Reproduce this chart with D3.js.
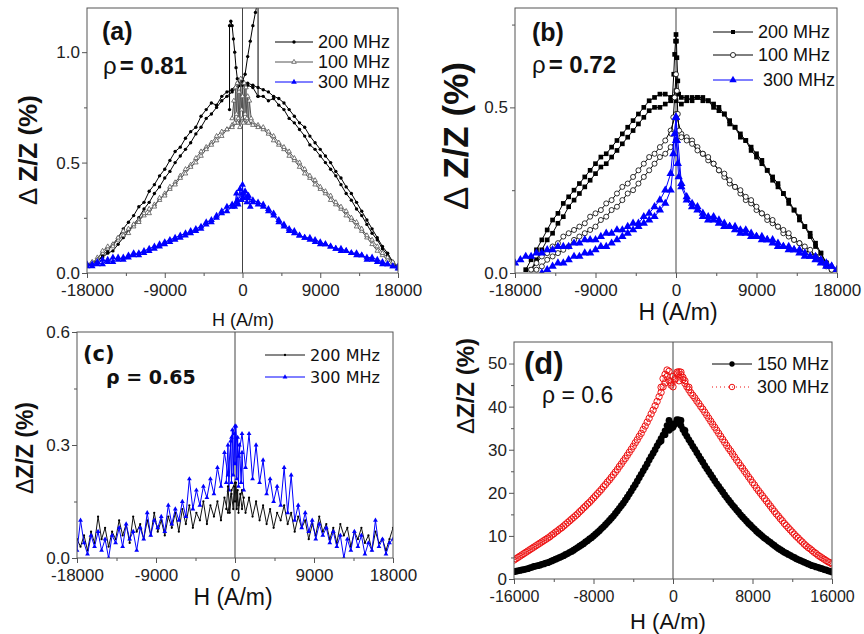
<!DOCTYPE html>
<html>
<head>
<meta charset="UTF-8">
<style>
  body { margin: 0; background: #fff; }
  svg { display: block; font-family: Arial, "Liberation Sans", sans-serif; }
</style>
</head>
<body>
<svg width="864" height="634"></svg>
<script src="https://d3js.org/d3.v7.min.js"></script>
<script>
// field sweep grids (A/m)
const hAB = [-18000,-17400,-16800,-16200,-15600,-15000,-14400,-13800,-13200,-12600,-12000,-11400,-10800,-10200,-9600,-9000,-8400,-7800,-7200,-6600,-6000,-5400,-4800,-4200,-3600,-3000,-2400,-1800,-1200,-600,0,600,1200,1800,2400,3000,3600,4200,4800,5400,6000,6600,7200,7800,8400,9000,9600,10200,10800,11400,12000,12600,13200,13800,14400,15000,15600,16200,16800,17400,18000];
const hC = [-18000,-17600,-17200,-16800,-16400,-16000,-15600,-15200,-14800,-14400,-14000,-13600,-13200,-12800,-12400,-12000,-11600,-11200,-10800,-10400,-10000,-9600,-9200,-8800,-8400,-8000,-7600,-7200,-6800,-6400,-6000,-5600,-5200,-4800,-4400,-4000,-3600,-3200,-2800,-2400,-2000,-1600,-1200,-800,-400,0,400,800,1200,1600,2000,2400,2800,3200,3600,4000,4400,4800,5200,5600,6000,6400,6800,7200,7600,8000,8400,8800,9200,9600,10000,10400,10800,11200,11600,12000,12400,12800,13200,13600,14000,14400,14800,15200,15600,16000,16400,16800,17200,17600,18000];
const hD = [-16000,-15600,-15200,-14800,-14400,-14000,-13600,-13200,-12800,-12400,-12000,-11600,-11200,-10800,-10400,-10000,-9600,-9200,-8800,-8400,-8000,-7600,-7200,-6800,-6400,-6000,-5600,-5200,-4800,-4400,-4000,-3600,-3200,-2800,-2400,-2000,-1600,-1200,-800,-400,0,400,800,1200,1600,2000,2400,2800,3200,3600,4000,4400,4800,5200,5600,6000,6400,6800,7200,7600,8000,8400,8800,9200,9600,10000,10400,10800,11200,11600,12000,12400,12800,13200,13600,14000,14400,14800,15200,15600,16000];
const hD2 = [-15800,-15400,-15000,-14600,-14200,-13800,-13400,-13000,-12600,-12200,-11800,-11400,-11000,-10600,-10200,-9800,-9400,-9000,-8600,-8200,-7800,-7400,-7000,-6600,-6200,-5800,-5400,-5000,-4600,-4200,-3800,-3400,-3000,-2600,-2200,-1800,-1400,-1000,-600,-200,200,600,1000,1400,1800,2200,2600,3000,3400,3800,4200,4600,5000,5400,5800,6200,6600,7000,7400,7800,8200,8600,9000,9400,9800,10200,10600,11000,11400,11800,12200,12600,13000,13400,13800,14200,14600,15000,15400,15800];

// (a) rho = 0.81
const a200u = [0.03,0.05,0.05,0.08,0.10,0.13,0.16,0.20,0.23,0.26,0.30,0.32,0.37,0.40,0.44,0.47,0.51,0.55,0.57,0.61,0.64,0.66,0.71,0.74,0.77,0.76,0.80,0.82,0.83,0.86,0.87,0.85,0.84,0.80,0.80,0.78,0.79,0.76,0.74,0.70,0.68,0.65,0.62,0.58,0.56,0.53,0.50,0.47,0.44,0.40,0.36,0.33,0.29,0.26,0.22,0.18,0.15,0.11,0.08,0.05,0.02];
const a200d = [0.04,0.04,0.06,0.07,0.09,0.10,0.13,0.16,0.19,0.22,0.25,0.29,0.32,0.36,0.39,0.43,0.46,0.50,0.53,0.56,0.59,0.63,0.66,0.70,0.72,0.75,0.78,0.80,0.82,0.84,0.85,0.86,0.85,0.84,0.83,0.82,0.80,0.79,0.77,0.74,0.71,0.68,0.66,0.62,0.59,0.56,0.53,0.50,0.46,0.43,0.39,0.36,0.32,0.28,0.24,0.20,0.16,0.12,0.09,0.05,0.03];
const a200Spike = [[-1500,0.74],[-1500,1.12],[-1350,1.14],[-1200,1.12],[-1050,1.06],[-900,1.00],[-750,0.93],[-600,0.88],[-300,0.85],[0,0.87],[300,0.90],[600,0.98],[900,1.05],[1200,1.12],[1500,1.18],[1700,1.22],[1800,1.22],[1800,0.80]];
const a100u = [0.03,0.04,0.07,0.09,0.11,0.13,0.15,0.17,0.20,0.21,0.24,0.26,0.27,0.31,0.33,0.36,0.38,0.41,0.44,0.47,0.49,0.52,0.55,0.57,0.59,0.62,0.64,0.65,0.67,0.68,0.69,0.68,0.68,0.67,0.65,0.63,0.60,0.58,0.56,0.53,0.51,0.48,0.45,0.43,0.40,0.38,0.36,0.33,0.31,0.29,0.26,0.24,0.21,0.19,0.16,0.13,0.10,0.08,0.06,0.04,0.02];
const a100d = [0.04,0.05,0.06,0.10,0.12,0.12,0.16,0.19,0.18,0.22,0.23,0.27,0.29,0.30,0.34,0.35,0.39,0.40,0.43,0.45,0.48,0.50,0.53,0.56,0.58,0.60,0.62,0.65,0.66,0.68,0.70,0.69,0.67,0.66,0.66,0.64,0.62,0.59,0.57,0.55,0.52,0.50,0.47,0.44,0.42,0.39,0.37,0.35,0.32,0.30,0.28,0.25,0.23,0.20,0.17,0.15,0.12,0.09,0.07,0.05,0.03];
const a100Center = [[-1200,0.70],[-1000,0.78],[-900,0.68],[-800,0.84],[-700,0.72],[-600,0.86],[-500,0.70],[-400,0.82],[-300,0.66],[-200,0.88],[-100,0.74],[0,0.80],[100,0.68],[200,0.86],[300,0.72],[400,0.84],[500,0.70],[600,0.80],[700,0.68],[800,0.78],[1000,0.70]];
const a300u = [0.04,0.03,0.05,0.04,0.06,0.05,0.07,0.06,0.08,0.08,0.09,0.10,0.11,0.12,0.12,0.14,0.15,0.16,0.17,0.18,0.18,0.20,0.21,0.23,0.24,0.26,0.28,0.30,0.31,0.33,0.36,0.34,0.33,0.32,0.31,0.28,0.26,0.23,0.21,0.19,0.18,0.17,0.16,0.15,0.15,0.14,0.13,0.12,0.11,0.11,0.10,0.09,0.09,0.08,0.07,0.07,0.06,0.05,0.04,0.03,0.02];
const a300d = [0.03,0.04,0.04,0.06,0.05,0.07,0.06,0.07,0.07,0.09,0.08,0.09,0.10,0.11,0.13,0.13,0.14,0.15,0.16,0.17,0.19,0.19,0.20,0.22,0.23,0.25,0.27,0.28,0.30,0.32,0.34,0.35,0.32,0.31,0.30,0.29,0.27,0.24,0.22,0.20,0.19,0.17,0.16,0.16,0.14,0.13,0.13,0.12,0.11,0.10,0.10,0.09,0.08,0.08,0.06,0.06,0.05,0.04,0.04,0.03,0.03];
const a300Center = [[-900,0.30],[-700,0.36],[-500,0.31],[-300,0.38],[-100,0.33],[0,0.40],[100,0.34],[300,0.37],[500,0.32],[700,0.35],[900,0.30]];

// (b) rho = 0.72
const b200u = [null,null,0.01,0.04,0.07,0.10,0.13,0.16,0.18,0.21,0.23,0.25,0.27,0.29,0.31,0.33,0.35,0.36,0.38,0.40,0.42,0.44,0.46,0.48,0.50,0.52,0.53,0.54,0.54,0.53,0.52,0.51,0.52,0.53,0.53,0.53,0.52,0.51,0.50,0.48,0.46,0.44,0.42,0.40,0.38,0.36,0.34,0.31,0.29,0.27,0.24,0.22,0.19,0.17,0.14,0.12,0.09,0.06,0.03,0.01,null];
const b200d = [null,null,null,0.01,0.04,0.07,0.10,0.12,0.15,0.17,0.20,0.22,0.24,0.26,0.28,0.30,0.32,0.33,0.35,0.37,0.39,0.41,0.43,0.45,0.47,0.49,0.50,0.50,0.51,0.52,0.55,0.53,0.53,0.52,0.53,0.52,0.52,0.50,0.49,0.48,0.45,0.44,0.41,0.40,0.37,0.35,0.33,0.31,0.28,0.26,0.24,0.21,0.19,0.16,0.14,0.11,0.08,0.06,0.03,0.01,null];
const b200Spike = [[-400,0.53],[-250,0.60],[-150,0.66],[-50,0.70],[0,0.72],[50,0.70],[100,0.65],[200,0.58],[300,0.54]];
const b100u = [null,null,null,0.01,0.03,0.05,0.06,0.08,0.09,0.11,0.12,0.13,0.14,0.15,0.17,0.18,0.19,0.21,0.22,0.24,0.26,0.27,0.29,0.31,0.33,0.35,0.36,0.38,0.40,0.43,0.48,0.42,0.41,0.40,0.38,0.36,0.34,0.33,0.31,0.29,0.27,0.26,0.24,0.22,0.21,0.19,0.18,0.16,0.15,0.14,0.12,0.11,0.10,0.09,0.07,0.06,0.05,0.04,0.02,0.01,null];
const b100d = [null,null,null,null,0.01,0.02,0.04,0.05,0.06,0.07,0.08,0.10,0.11,0.12,0.13,0.14,0.16,0.17,0.19,0.20,0.22,0.24,0.25,0.27,0.29,0.31,0.33,0.35,0.36,0.38,0.40,0.41,0.40,0.39,0.37,0.36,0.35,0.33,0.31,0.30,0.28,0.26,0.25,0.23,0.22,0.20,0.18,0.17,0.16,0.14,0.13,0.12,0.10,0.09,0.08,0.07,0.05,0.04,0.03,0.01,null];
const b100Spike = [[-500,0.42],[-300,0.47],[-150,0.53],[0,0.60],[100,0.55],[200,0.48],[350,0.43]];
const b300u = [0.03,0.04,0.05,0.05,0.06,0.06,0.07,0.07,0.08,0.08,0.08,0.09,0.09,0.10,0.10,0.10,0.11,0.12,0.12,0.13,0.13,0.14,0.15,0.15,0.17,0.18,0.20,0.22,0.25,0.30,0.47,0.27,0.23,0.21,0.20,0.18,0.17,0.17,0.16,0.15,0.14,0.14,0.13,0.13,0.12,0.11,0.11,0.10,0.10,0.09,0.08,0.08,0.07,0.07,0.06,0.05,0.05,0.04,0.03,0.02,0.01];
const b300d = [null,null,null,null,null,0.00,0.01,0.02,0.03,0.03,0.04,0.05,0.05,0.06,0.06,0.07,0.08,0.08,0.09,0.10,0.11,0.12,0.13,0.14,0.15,0.16,0.17,0.19,0.21,0.25,0.40,0.26,0.22,0.20,0.19,0.17,0.16,0.16,0.15,0.14,0.14,0.13,0.12,0.12,0.11,0.11,0.10,0.10,0.09,0.08,0.08,0.07,0.07,0.06,0.05,0.05,0.04,0.03,0.02,0.02,0.01];
const b300Spike = [[-300,0.36],[-150,0.42],[0,0.47],[100,0.40],[200,0.33],[300,0.29]];

// (c) rho = 0.65
const c200 = [0.05,0.03,0.06,0.02,0.07,0.04,0.11,0.05,0.08,0.03,0.07,0.05,0.10,0.06,0.09,0.04,0.11,0.07,0.09,0.05,0.10,0.06,0.12,0.07,0.10,0.06,0.11,0.08,0.12,0.07,0.13,0.09,0.14,0.08,0.12,0.10,0.15,0.09,0.14,0.11,0.15,0.10,0.16,0.12,0.18,0.20,0.14,0.18,0.12,0.16,0.11,0.15,0.10,0.14,0.09,0.13,0.08,0.12,0.10,0.14,0.09,0.12,0.07,0.11,0.08,0.10,0.05,0.09,0.06,0.11,0.07,0.09,0.05,0.08,0.04,0.09,0.06,0.08,0.03,0.07,0.05,0.08,0.04,0.06,0.02,0.07,0.04,0.05,0.02,0.05,0.08];
const c200Center = [[-1000,0.13],[-800,0.19],[-600,0.12],[-400,0.17],[-200,0.13],[-100,0.19],[0,0.15],[100,0.20],[200,0.13],[300,0.18],[400,0.12],[600,0.17],[800,0.13],[1000,0.16]];
const c300 = [0.02,0.10,0.04,0.01,0.06,0.03,0.07,0.02,0.05,0.00,0.06,0.04,0.08,0.03,0.09,0.05,0.07,0.02,0.08,0.05,0.12,0.06,0.10,0.08,0.11,0.07,0.14,0.09,0.13,0.10,0.15,0.11,0.21,0.13,0.18,0.14,0.19,0.16,0.21,0.17,0.24,0.19,0.28,0.22,0.32,0.35,0.27,0.33,0.24,0.33,0.21,0.30,0.20,0.26,0.17,0.21,0.15,0.19,0.14,0.24,0.12,0.22,0.10,0.14,0.08,0.12,0.07,0.10,0.05,0.09,0.06,0.08,0.04,0.07,0.03,0.06,0.00,0.05,0.02,0.07,0.03,0.06,0.01,0.04,0.02,0.10,0.03,0.05,0.01,0.04,0.05];
const c300Center = [[-1000,0.20],[-800,0.30],[-700,0.18],[-500,0.31],[-400,0.20],[-300,0.34],[-200,0.22],[-100,0.33],[0,0.25],[100,0.35],[200,0.21],[300,0.32],[400,0.19],[500,0.30],[700,0.20],[800,0.28],[1000,0.18]];

// (d) rho = 0.6, forward sweep on hD, return sweep on hD2
const d150 = [1.7,1.9,2.1,2.3,2.6,2.9,3.1,3.4,3.7,4.0,4.4,4.8,5.2,5.7,6.2,6.7,7.3,7.9,8.6,9.3,10.0,10.8,11.7,12.6,13.6,14.6,15.8,17.0,18.3,19.7,21.2,22.7,24.3,25.9,27.6,29.2,30.9,32.6,34.4,36.8,35.2,36.6,35.6,33.9,32.3,30.8,29.3,27.8,26.3,24.9,23.5,22.1,20.8,19.5,18.3,17.1,16.0,14.9,13.9,12.9,12.0,11.1,10.3,9.5,8.8,8.1,7.4,6.8,6.2,5.7,5.2,4.7,4.3,3.9,3.5,3.1,2.8,2.5,2.2,1.9,1.6];
const d150b = [1.8,2.0,2.2,2.4,2.7,3.0,3.2,3.5,3.8,4.2,4.6,5.0,5.4,5.9,6.4,7.0,7.6,8.2,8.9,9.6,10.4,11.2,12.1,13.1,14.1,15.2,16.4,17.6,19.0,20.4,21.9,23.5,25.1,26.7,28.4,30.0,31.7,33.4,35.6,35.0,35.9,36.9,34.7,33.1,31.6,30.1,28.6,27.1,25.6,24.2,22.8,21.5,20.2,18.9,17.7,16.6,15.5,14.4,13.4,12.5,11.6,10.7,9.9,9.2,8.5,7.8,7.1,6.5,6.0,5.5,5.0,4.5,4.1,3.7,3.3,3.0,2.7,2.4,2.1,1.8];
const d150Center = [[-1200,32.0],[-800,33.5],[-400,34.5],[0,36.0],[400,37.0],[800,36.8],[1200,34.5]];
const d300 = [4.4,5.0,5.6,6.2,6.8,7.4,8.0,8.6,9.2,9.8,10.5,11.2,11.9,12.7,13.5,14.3,15.1,16.0,16.9,17.8,18.8,19.8,20.8,21.9,23.0,24.2,25.4,26.7,28.0,29.4,30.8,32.3,33.8,35.5,37.3,39.2,41.2,43.3,45.5,48.2,44.6,47.6,47.4,45.4,43.9,42.6,41.3,40.0,38.7,37.3,35.9,34.5,33.1,31.7,30.3,29.0,27.6,26.3,25.0,23.7,22.4,21.1,19.9,18.7,17.5,16.3,15.1,14.0,12.9,11.9,10.9,9.9,9.0,8.1,7.3,6.6,5.9,5.2,4.6,4.0,3.5];
const d300b = [4.7,5.3,5.9,6.5,7.1,7.7,8.3,8.9,9.5,10.2,10.9,11.6,12.3,13.1,13.9,14.7,15.6,16.5,17.4,18.3,19.3,20.3,21.4,22.5,23.6,24.8,26.1,27.4,28.7,30.1,31.6,33.1,34.7,36.4,38.3,40.2,42.3,44.6,47.0,45.5,46.2,48.1,46.3,44.6,43.2,42.0,40.7,39.4,38.0,36.6,35.2,33.8,32.4,31.0,29.7,28.3,27.0,25.7,24.4,23.1,21.8,20.5,19.3,18.1,16.9,15.7,14.6,13.5,12.4,11.4,10.4,9.5,8.6,7.7,7.0,6.2,5.5,4.9,4.3,3.8];
const d300Center = [[-1200,44.5],[-1000,46.5],[-800,47.5],[-600,48.5],[-400,46.0],[-200,45.0],[0,47.0],[200,46.5],[400,48.0],[600,46.0],[800,48.0],[1000,46.8],[1200,46.0],[1600,44.5]];

// ticks and labels
const xTicks18 = [-18000,-9000,0,9000,18000], xMinor18 = [-13500,-4500,4500,13500];
const xTicks16 = [-16000,-8000,0,8000,16000], xMinor16 = [-12000,-4000,4000,12000];
const yTicksA = [0,0.5,1.0], yMinorA = [0.25,0.75];
const yTicksB = [0,0.5], yMinorB = [0.25,0.75];
const yTicksC = [0,0.3,0.6], yMinorC = [0.15,0.45];
const yTicksD = [0,10,20,30,40,50], yMinorD = [5,15,25,35,45];
const legA = ["200 MHz","100 MHz","300 MHz"];
const legB = ["200 MHz","100 MHz"," 300 MHz"];
const legC = ["200 MHz","300 MHz"];
const legD = ["150 MHz","300 MHz"];

const BLUE = "#0000ff", RED = "#ee1111";
let svg = d3.select("svg");
const zip = (h, v) => h.map((d, i) => [d, v[i]]);

function panel(p) {
  let x = d3.scaleLinear().domain(p.xDom).range([p.left, p.right]);
  let y = d3.scaleLinear().domain(p.yDom).range([p.bottom, p.top]);
  let g = svg.append("g");
  g.append("clipPath").attr("id", "clip" + p.id)
    .append("rect").attr("x", p.left).attr("y", p.top)
    .attr("width", p.right - p.left).attr("height", p.bottom - p.top);
  let plot = g.append("g").attr("clip-path", "url(#clip" + p.id + ")");
  plot.append("line").attr("x1", x(0)).attr("x2", x(0)).attr("y1", p.top).attr("y2", p.bottom)
    .attr("stroke", "#444").attr("stroke-width", 1);

  let gx = g.append("g").attr("transform", "translate(0," + p.bottom + ")")
    .call(d3.axisBottom(x).tickValues(p.xt).tickSize(5).tickPadding(p.pad || 6).tickFormat(d => String(d)));
  g.append("g").attr("transform", "translate(0," + p.bottom + ")")
    .call(d3.axisBottom(x).tickValues(p.xm).tickSize(3).tickFormat(""));
  g.append("g").attr("transform", "translate(" + p.left + ",0)")
    .call(d3.axisLeft(y).tickValues(p.yt).tickSize(5).tickPadding(2).tickFormat(d3.format(p.yFmt)));
  g.append("g").attr("transform", "translate(" + p.left + ",0)")
    .call(d3.axisLeft(y).tickValues(p.ym).tickSize(3).tickFormat(""));
  g.selectAll(".domain").remove();
  g.selectAll(".tick line").attr("stroke", "#555");
  g.selectAll(".tick text").attr("fill", "#222").style("font-size", "17px").style("font-family", "Arial, 'Liberation Sans', sans-serif");
  if (p.xFont) gx.selectAll(".tick text").style("font-size", p.xFont + "px");
  g.append("rect").attr("x", p.left).attr("y", p.top)
    .attr("width", p.right - p.left).attr("height", p.bottom - p.top)
    .attr("fill", "none").attr("stroke", "#555").attr("stroke-width", 1);
  return {g, plot, x, y};
}

function series(P, pts, st) {
  let line = d3.line().defined(d => d[1] != null).x(d => P.x(d[0])).y(d => P.y(d[1]));
  P.plot.append("path").datum(pts).attr("fill", "none")
    .attr("stroke", st.color).attr("stroke-width", st.lw || 1)
    .attr("stroke-dasharray", st.dash || null).attr("d", line);
  P.plot.append("g").selectAll("path")
    .data(pts.filter(d => d[1] != null))
    .join("path")
      .attr("transform", d => "translate(" + P.x(d[0]) + "," + P.y(d[1]) + ")")
      .attr("d", d3.symbol().type(st.sym).size(st.size))
      .attr("fill", st.fill)
      .attr("stroke", st.stroke || "none")
      .attr("stroke-width", st.sw || 1);
}

function legend(x0, x1, tx, ys, labels, styles, font) {
  labels.forEach((lab, i) => {
    let st = styles[i];
    svg.append("line").attr("x1", x0).attr("x2", x1).attr("y1", ys[i]).attr("y2", ys[i])
      .attr("stroke", st.color).attr("stroke-width", 1).attr("stroke-dasharray", st.dash || null);
    svg.append("path").attr("transform", "translate(" + (x0 + x1) / 2 + "," + ys[i] + ")")
      .attr("d", d3.symbol().type(st.sym).size(st.legSize || st.size))
      .attr("fill", st.fill).attr("stroke", st.stroke || "none").attr("stroke-width", st.sw || 1);
    svg.append("text").attr("x", tx).attr("y", ys[i]).attr("dy", "0.35em")
      .style("font-size", font.size + "px").style("font-family", font.family)
      .attr("fill", "#111").attr("xml:space", "preserve").text(lab);
  });
}

function txt(x, y, parts, size, family) {
  let t = svg.append("text").attr("x", x).attr("y", y).attr("fill", "#111")
    .style("font-size", size + "px").style("font-family", family || "Arial, 'Liberation Sans', sans-serif");
  parts.forEach(p => t.append("tspan").attr("font-weight", p[1]).attr("dx", p[2] || 0).text(p[0]));
  return t;
}

function yTitle(cx, cy, size, parts) {
  let t = svg.append("text").attr("transform", "translate(" + cx + "," + cy + ") rotate(-90)")
    .attr("text-anchor", "middle").attr("dy", "0.35em").attr("fill", "#111")
    .style("font-size", size + "px");
  parts.forEach(p => t.append("tspan").attr("font-weight", p[1]).text(p[0]));
}

function xTitle(cx, y, size) {
  svg.append("text").attr("x", cx).attr("y", y).attr("text-anchor", "middle").attr("fill", "#111")
    .style("font-size", size + "px").text("H (A/m)");
}

// ---------- (a)
let sA200 = {color: "#000", sym: d3.symbolCircle, size: 9, fill: "#000"};
let sA100 = {color: "#555", sym: d3.symbolTriangle, size: 9, fill: "#fff", stroke: "#555", sw: 0.8};
let sA300 = {color: BLUE, sym: d3.symbolTriangle, size: 20, fill: BLUE, legSize: 14};
let A = panel({id: "a", left: 87, right: 398, top: 8, bottom: 273, xDom: [-18000, 18000], yDom: [0, 1.2],
  xt: xTicks18, xm: xMinor18, yt: yTicksA, ym: yMinorA, yFmt: ".1f"});
series(A, zip(hAB, a200u), sA200);
series(A, zip(hAB, a200d), sA200);
series(A, a200Spike, sA200);
series(A, zip(hAB, a100u), sA100);
series(A, zip(hAB, a100d), sA100);
series(A, a100Center, sA100);
series(A, zip(hAB, a300u), sA300);
series(A, zip(hAB, a300d), sA300);
series(A, a300Center, sA300);
legend(275, 313, 318, [42, 62, 82], legA, [sA200, sA100, sA300], {size: 18, family: "Arial"});
txt(102, 40, [["(a)", "bold"]], 25);
txt(103, 74, [["ρ", "normal"], ["= 0.81", "bold", 3]], 24);
yTitle(28, 150, 26, [["Δ ", "normal"], ["Z/Z (%)", "bold"]]);
xTitle(243, 326, 18);

// ---------- (b)
let sB200 = {color: "#000", sym: d3.symbolSquare, size: 22, fill: "#000", legSize: 16};
let sB100 = {color: "#000", sym: d3.symbolCircle, size: 20, fill: "#fff", stroke: "#000", sw: 0.8};
let sB300 = {color: BLUE, sym: d3.symbolTriangle, size: 30, fill: BLUE, legSize: 24};
let B = panel({id: "b", left: 515, right: 837, top: 8, bottom: 273, xDom: [-18000, 18000], yDom: [0, 0.8],
  xt: xTicks18, xm: xMinor18, yt: yTicksB, ym: yMinorB, yFmt: ".1f"});
series(B, zip(hAB, b200u), sB200);
series(B, zip(hAB, b200d), sB200);
series(B, b200Spike, sB200);
series(B, zip(hAB, b100u), sB100);
series(B, zip(hAB, b100d), sB100);
series(B, b100Spike, sB100);
series(B, zip(hAB, b300u), sB300);
series(B, zip(hAB, b300d), sB300);
series(B, b300Spike, sB300);
legend(713, 753, 758, [32, 55, 80], legB, [sB200, sB100, sB300], {size: 18, family: "Arial"});
txt(532, 41, [["(b)", "bold"]], 25);
txt(532, 73, [["ρ", "normal"], ["= 0.72", "bold", 3]], 24);
yTitle(456, 136, 35, [["Δ ", "normal"], ["Z/Z (%)", "bold"]]);
xTitle(678, 320, 23);

// ---------- (c)
let sC200 = {color: "#111", sym: d3.symbolCircle, size: 4, fill: "#000"};
let sC300 = {color: BLUE, sym: d3.symbolTriangle, size: 10, fill: BLUE};
let C = panel({id: "c", left: 77, right: 393, top: 332, bottom: 558, xDom: [-18000, 18000], yDom: [0, 0.6],
  xt: xTicks18, xm: xMinor18, yt: yTicksC, ym: yMinorC, yFmt: ".1f"});
series(C, zip(hC, c200), sC200);
series(C, zip(hC, c300), sC300);
series(C, c300Center, sC300);
series(C, c200Center, sC200);
legend(265, 305, 310, [355, 377], legC, [sC200, sC300], {size: 16, family: "'DejaVu Sans', Verdana, sans-serif"});
txt(83, 361, [["(c)", "bold"]], 21, "'DejaVu Sans', Verdana, sans-serif");
txt(106, 384, [["ρ = 0.65", "bold"]], 19, "'DejaVu Sans', Verdana, sans-serif");
yTitle(25, 448, 23, [["Δ", "normal"], ["Z/Z (%)", "bold"]]);
xTitle(233, 605, 23);

// ---------- (d)
let sD150 = {color: "#000", sym: d3.symbolCircle, size: 36, fill: "#000", legSize: 22};
let sD300 = {color: RED, dash: "1,3", sym: d3.symbolCircle, size: 32, fill: "none", stroke: RED, sw: 1, legSize: 24};
let D = panel({id: "d", left: 514, right: 832, top: 342, bottom: 579, xDom: [-16000, 16000], yDom: [0, 55],
  xt: xTicks16, xm: xMinor16, yt: yTicksD, ym: yMinorD, yFmt: "d", pad: 7, xFont: 16});
series(D, zip(hD, d150), sD150);
series(D, zip(hD2, d150b), sD150);
series(D, d150Center, sD150);
series(D, zip(hD, d300), sD300);
series(D, zip(hD2, d300b), sD300);
series(D, d300Center, sD300);
legend(712, 752, 757, [364, 387], legD, [sD150, sD300], {size: 18, family: "Arial"});
txt(524, 374, [["(d)", "bold"]], 31);
txt(542, 403, [["ρ = 0.6", "normal"]], 23);
yTitle(466, 386, 24, [["Δ", "normal"], ["Z/Z (%)", "bold"]]);
xTitle(668, 629, 22);
</script>
</body>
</html>
